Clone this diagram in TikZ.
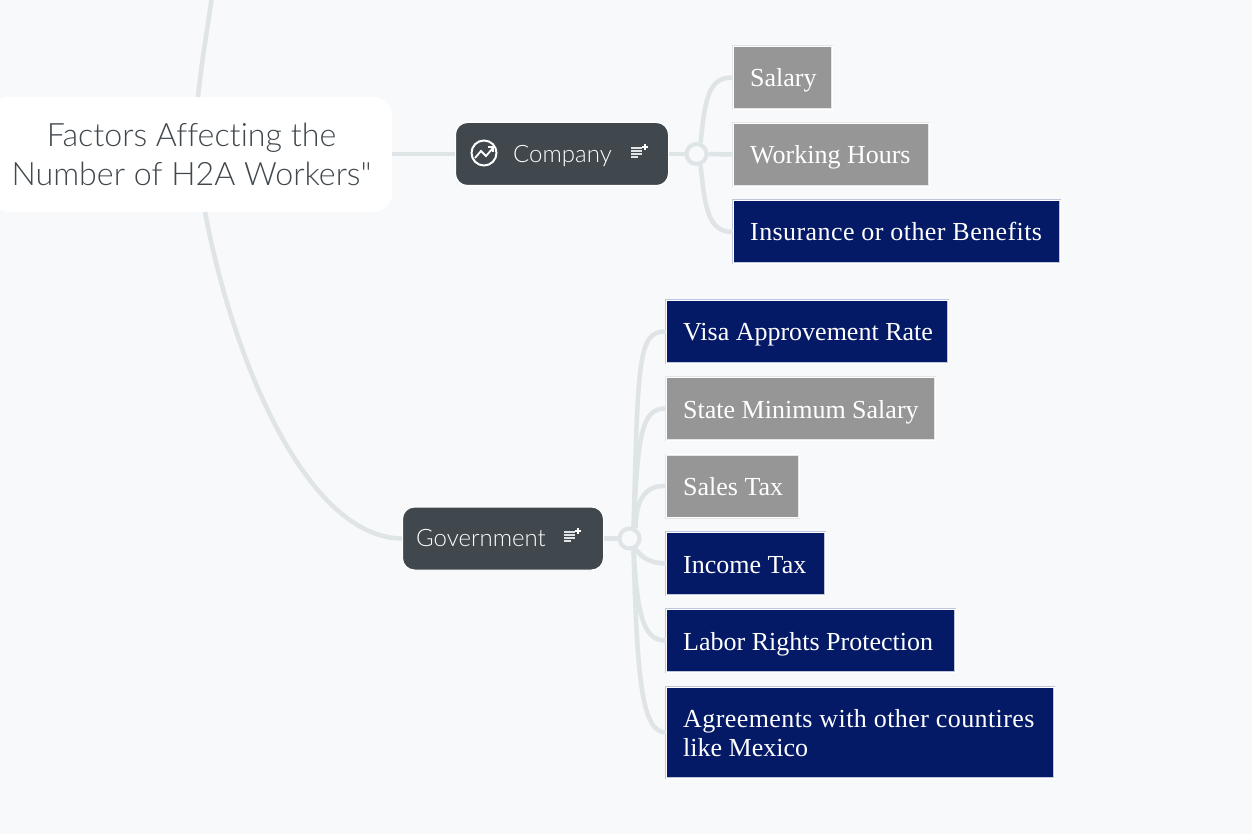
\documentclass[tikz,border=0pt]{standalone}
\usepackage{fontspec}
\setmainfont{Liberation Serif}
\newfontfamily\topicfont[Ligatures=NoCommon]{Lato Light}
\usetikzlibrary{positioning}
\definecolor{pagebg}{HTML}{F7F9FB}
\definecolor{linkgrey}{HTML}{DFE4E6}
\definecolor{topicdark}{HTML}{40484D}
\definecolor{navyfill}{HTML}{051A66}
\definecolor{greyfill}{HTML}{969696}
\newcommand{\widerleaf}{\addfontfeature{LetterSpace=1.6}}
\tikzset{link/.style={linkgrey,line width=4.5pt},
         central/.style={fill=white,rounded corners=18pt,inner sep=0pt,minimum height=115pt,text=topicdark,align=center,font=\topicfont\fontsize{32.2}{39}\selectfont},
         topic/.style={fill=topicdark,draw=white,line width=1pt,rounded corners=12pt,inner sep=0pt,minimum height=63pt},
         topictext/.style={inner sep=0pt,text=white,anchor=base west,font=\topicfont\fontsize{24}{28}\selectfont},
         hub/.style={circle,draw=linkgrey,line width=4pt,fill=pagebg,minimum size=20pt,inner sep=0pt},
         leaf/.style={draw=#1!25!white,double=white,double distance=.8pt,line width=.6pt,fill=#1,inner sep=0pt,minimum height=63pt,text=white},
         leaftext/.style={inner sep=0pt,text=white,anchor=base west,align=left,font=\fontsize{26}{29}\selectfont},
         notes/.pic={
             \foreach \y/\w in {-5/11,-2/11,1/11,4/7}
                 \draw[white!85!topicdark,line width=1.3pt](-8,\y)--++(\w,0);
             \draw[white,line width=1.2pt](3,-6)--(9,-6);
             \draw[white,line width=1.2pt](6,-9)--(6,-3);
         }}

\begin{document}
\begin{tikzpicture}[x=1pt,y=-1pt]
        \useasboundingbox[fill=pagebg](0,0)rectangle(1252,834);

        \coordinate(up)at(212,-4);
        \coordinate(rootup)at(198,97);
        \coordinate(rootdown)at(205,212);
        \node[central, minimum width=401pt](root)at(191.5,154.5){Factors Affecting the\\Number of H2A Workers"};

        \node[topic, minimum width=213pt](company)at(562,154){};
        \node[topic, minimum width=201pt](government)at(503,538.5){};
        \node[topictext](companytext)at(513,162.5){Company};
        \node[topictext](governmenttext)at(416,546){Government};

        \draw[white,line width=2pt](484,153)circle(12.5);
        \draw[white,line width=1.8pt](475,158)--(481,151)--(486,156)--(493,148);
        \draw[white,line width=1.5pt](488,147)--(493,147)--(493,152);
        \pic at(639,153){notes};
        \pic at(572,537){notes};

        \node[hub](hubcompany)at(696.5,154){};
        \node[hub](hubgovernment)at(629.5,538.5){};

        \node[leaf=greyfill, minimum width=99pt](salary)at(782.5,77.5){};
        \node[leaf=greyfill, minimum width=196pt](hours)at(831,154.5){};
        \node[leaf=navyfill, minimum width=327pt](insurance)at(896.5,232){};
        \node[leaf=navyfill, minimum width=282pt](visa)at(807,331.5){};
        \node[leaf=greyfill, minimum width=269pt](state)at(800.5,408.5){};
        \node[leaf=greyfill, minimum width=133pt](sales)at(732.5,486){};
        \node[leaf=navyfill, minimum width=159pt](income)at(745.5,563.5){};
        \node[leaf=navyfill, minimum width=289pt](labor)at(810.5,640.5){};
        \node[leaf=navyfill, minimum width=388pt, minimum height=91pt](agreements)at(860,732.5){};

        \node[leaftext]at(750,87){Salary};
        \node[leaftext]at(750,164){Working Hours};
        \node[leaftext]at(750,241){\widerleaf Insurance or other Benefits};
        \node[leaftext]at(683,340){Visa Approvement Rate};
        \node[leaftext]at(683,418){State Minimum Salary};
        \node[leaftext]at(683,495){Sales Tax};
        \node[leaftext]at(683,573){Income Tax};
        \node[leaftext]at(683,650){Labor Rights Protection};
        \node[leaftext]at(683,756){{\widerleaf Agreements with other countires}\\like Mexico};

        \draw[link](root.east|-company)--(company.west);
        \draw[link](rootup)to[out=84,in=-98](up);
        \draw[link](rootdown).. controls (235,370) and (310,538) ..(government.west);

        \draw[link](company.east)--(hubcompany.west);
        \draw[link](hubcompany.east)--(hours.west);
        \draw[link](hubcompany.70).. controls (705,100) and (708,77) ..(salary.west);
        \draw[link](hubcompany.-70).. controls (705,208) and (708,232) ..(insurance.west);

        \draw[link](government.east)--(hubgovernment.west);
        \draw[link](hubgovernment.70).. controls (638,360) and (638,331) ..(visa.west);
        \draw[link](hubgovernment.70).. controls (638,440) and (640,408) ..(state.west);
        \draw[link](hubgovernment.60).. controls (636,500) and (645,485) ..(sales.west);
        \draw[link](hubgovernment.-60).. controls (642,558) and (650,563) ..(income.west);
        \draw[link](hubgovernment.-70).. controls (637,610) and (642,641) ..(labor.west);
        \draw[link](hubgovernment.-70).. controls (637,680) and (642,732) ..(agreements.west);
    \end{tikzpicture}
\end{document}
